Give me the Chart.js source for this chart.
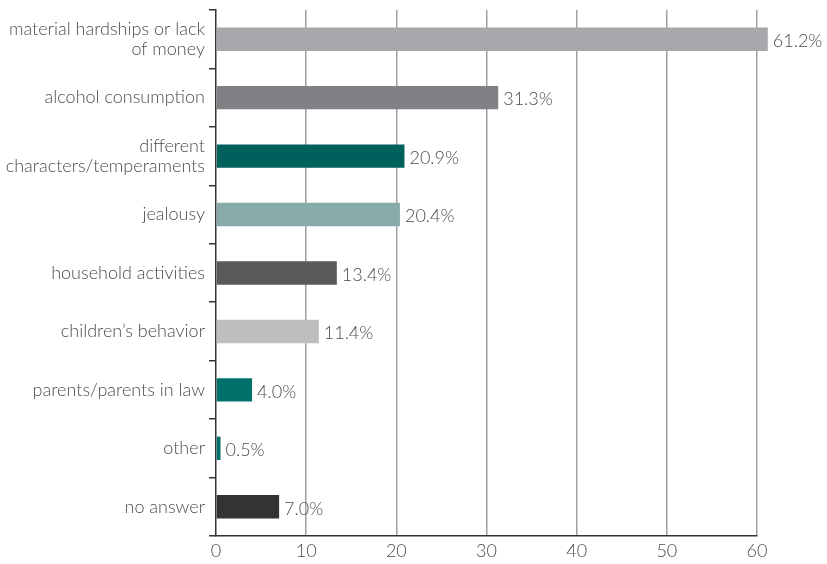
<!DOCTYPE html>
<html>
<head>
<meta charset="utf-8">
<script src="https://cdn.jsdelivr.net/npm/chart.js@4"></script>
<style>
  html, body { margin: 0; padding: 0; background: #fff; }
  #wrap { width: 827px; height: 564px; }
</style>
</head>
<body>
<div id="wrap"><canvas id="myChart"></canvas></div>
<script>
// categories (y axis)
const categories = [
    ['material hardships or lack', 'of money'],
    'alcohol consumption',
    ['different', 'characters/temperaments'],
    'jealousy',
    'household activities',
    'children\u2019s behavior',
    'parents/parents in law',
    'other',
    'no answer'
];
// percentages
const values = [61.2, 31.3, 20.9, 20.4, 13.4, 11.4, 4.0, 0.5, 7.0];
// bar colours
const barColors = ['#a7a8ab', '#808184', '#00605b', '#88abaa', '#58595b', '#bcbec0', '#00706a', '#00706a', '#333333'];
const xTicks = [0, 10, 20, 30, 40, 50, 60];

const textColor = '#4d4d4f';
const fontFamily = 'Lato, "Open Sans", sans-serif';

// draws "61.2%" etc at the end of each bar
const valueLabels = {
    id: 'valueLabels',
    afterDatasetsDraw(chart) {
        const c = chart.ctx;
        const meta = chart.getDatasetMeta(0);
        c.save();
        c.font = '300 18px ' + fontFamily;
        c.fillStyle = textColor;
        c.textBaseline = 'middle';
        c.textAlign = 'left';
        meta.data.forEach((bar, i) => {
            c.fillText(values[i].toFixed(1) + '%', bar.x + 5, bar.y + 2);
        });
        c.restore();
    }
};

const ctx = document.getElementById('myChart').getContext('2d');
const myChart = new Chart(ctx, {
    type: 'bar',
    data: {
        labels: categories,
        datasets: [{
            data: values,
            backgroundColor: barColors,
            barPercentage: 0.4,
            categoryPercentage: 1.0,
            clip: false
        }]
    },
    options: {
        indexAxis: 'y',
        responsive: true,
        maintainAspectRatio: false,
        animation: false,
        layout: { padding: { top: 10, right: 70, left: 0, bottom: 0 } },
        plugins: {
            legend: { display: false },
            tooltip: { enabled: false }
        },
        scales: {
            x: {
                min: 0,
                max: 60,
                afterBuildTicks(scale) {
                    scale.ticks = xTicks.map(v => ({ value: v }));
                },
                afterFit(scale) { scale.height = 28; },
                border: { display: true, color: '#333', width: 1.5 },
                grid: {
                    color: (c) => c.tick && c.tick.value === 0 ? 'rgba(0,0,0,0)' : '#a0a0a0',
                    lineWidth: 1.5,
                    drawTicks: false
                },
                ticks: {
                    color: textColor,
                    padding: 4,
                    font: { family: fontFamily, size: 18, weight: '300' }
                }
            },
            y: {
                afterFit(scale) {
                    scale.width = 216;
                    scale.paddingTop = 0;
                    scale.paddingBottom = 0;
                },
                border: { display: true, color: '#333', width: 1.5 },
                grid: {
                    offset: true,
                    drawOnChartArea: false,
                    drawTicks: true,
                    tickLength: 7,
                    color: '#333',
                    lineWidth: 1.5
                },
                ticks: {
                    color: textColor,
                    padding: 4,
                    font: { family: fontFamily, size: 18, weight: '300', lineHeight: 1.1 }
                }
            }
        }
    },
    plugins: [valueLabels]
});
</script>
</body>
</html>
